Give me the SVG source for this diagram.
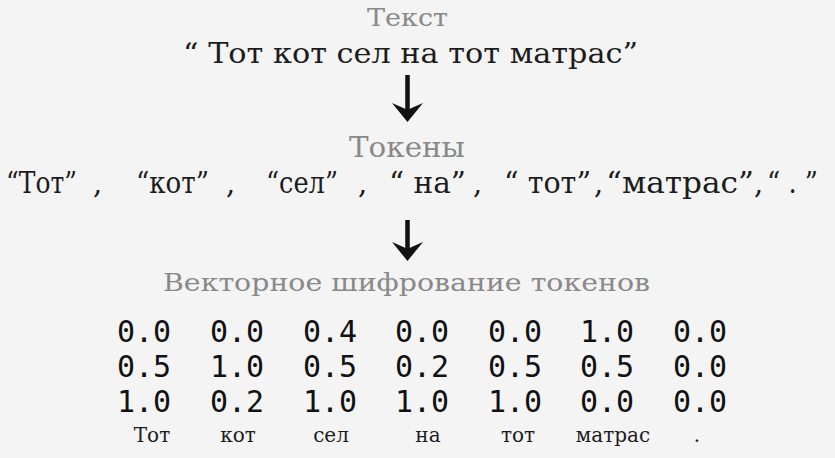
<svg xmlns="http://www.w3.org/2000/svg" width="835" height="458" viewBox="0 0 835 458">
<style>
.bg{fill:#f4f4f4}
.head{font-family:"DejaVu Serif","Liberation Serif",serif;fill:#898989}
.main{font-family:"DejaVu Serif","Liberation Serif",serif;fill:#1c1c1c}
.num{font-family:"DejaVu Sans Mono","Liberation Mono",monospace;font-size:30px;fill:#111;text-anchor:middle}
.lab{font-family:"DejaVu Serif","Liberation Serif",serif;font-size:20px;fill:#1c1c1c;text-anchor:middle}
.shaft{stroke:#111;stroke-width:4.5;fill:none}
</style>
<defs>
<marker id="ah" markerUnits="userSpaceOnUse" markerWidth="22" markerHeight="34" viewBox="-11 -17 22 34" refX="0" refY="0" orient="auto">
<path d="M10,0 L-9,-15.5 Q-4,-4 -2,0 Q-4,4 -9,15.5 Z" fill="#111"/>
</marker>
</defs>
<rect class="bg" x="0" y="0" width="835" height="458"/>

<g id="text-title">
<text class="head" x="367" y="26" font-size="24" textLength="81" lengthAdjust="spacingAndGlyphs">Текст</text>
</g>
<g id="sentence">
<text class="main" x="183" y="63" font-size="28" textLength="455" lengthAdjust="spacingAndGlyphs">“ Тот кот сел на тот матрас”</text>
</g>

<g id="tokens-title">
<text class="head" x="349" y="157" font-size="27" textLength="116" lengthAdjust="spacingAndGlyphs">Токены</text>
</g>
<g id="tokens" class="main" font-size="29">
<text x="6" y="193" textLength="71" lengthAdjust="spacingAndGlyphs">“Тот”</text>
<text x="93" y="193">,</text>
<text x="136" y="193" textLength="73" lengthAdjust="spacingAndGlyphs">“кот”</text>
<text x="226" y="193">,</text>
<text x="266" y="193" textLength="72" lengthAdjust="spacingAndGlyphs">“сел”</text>
<text x="358" y="193">,</text>
<text x="389" y="193" textLength="77" lengthAdjust="spacingAndGlyphs">“ на”</text>
<text x="473" y="193">,</text>
<text x="504" y="193" textLength="87" lengthAdjust="spacingAndGlyphs">“ тот”</text>
<text x="594" y="193">,</text>
<text x="606" y="193" textLength="148" lengthAdjust="spacingAndGlyphs">“матрас”</text>
<text x="754" y="193">,</text>
<text x="767" y="193" textLength="51" lengthAdjust="spacingAndGlyphs">“ . ”</text>
</g>

<g id="vector-title">
<text class="head" x="163" y="291" font-size="25" textLength="487" lengthAdjust="spacingAndGlyphs">Векторное шифрование токенов</text>
</g>

<g id="vectors">
<text class="num" x="144" y="342">0.0</text>
<text class="num" x="237" y="342">0.0</text>
<text class="num" x="330" y="342">0.4</text>
<text class="num" x="422" y="342">0.0</text>
<text class="num" x="515" y="342">0.0</text>
<text class="num" x="607" y="342">1.0</text>
<text class="num" x="700" y="342">0.0</text>
<text class="num" x="144" y="377">0.5</text>
<text class="num" x="237" y="377">1.0</text>
<text class="num" x="330" y="377">0.5</text>
<text class="num" x="422" y="377">0.2</text>
<text class="num" x="515" y="377">0.5</text>
<text class="num" x="607" y="377">0.5</text>
<text class="num" x="700" y="377">0.0</text>
<text class="num" x="144" y="412">1.0</text>
<text class="num" x="237" y="412">0.2</text>
<text class="num" x="330" y="412">1.0</text>
<text class="num" x="422" y="412">1.0</text>
<text class="num" x="515" y="412">1.0</text>
<text class="num" x="607" y="412">0.0</text>
<text class="num" x="700" y="412">0.0</text>
</g>

<g id="labels">
<text class="lab" x="152" y="442">Тот</text>
<text class="lab" x="238" y="442">кот</text>
<text class="lab" x="331" y="442">сел</text>
<text class="lab" x="428" y="442">на</text>
<text class="lab" x="518" y="442">тот</text>
<text class="lab" x="613" y="442">матрас</text>
<text class="lab" x="697" y="442">.</text>
</g>

<g id="connectors">
<line class="shaft" x1="407.5" y1="75" x2="407.5" y2="112" marker-end="url(#ah)"/>
<line class="shaft" x1="407.5" y1="220" x2="407.5" y2="251" marker-end="url(#ah)"/>
</g>
</svg>
